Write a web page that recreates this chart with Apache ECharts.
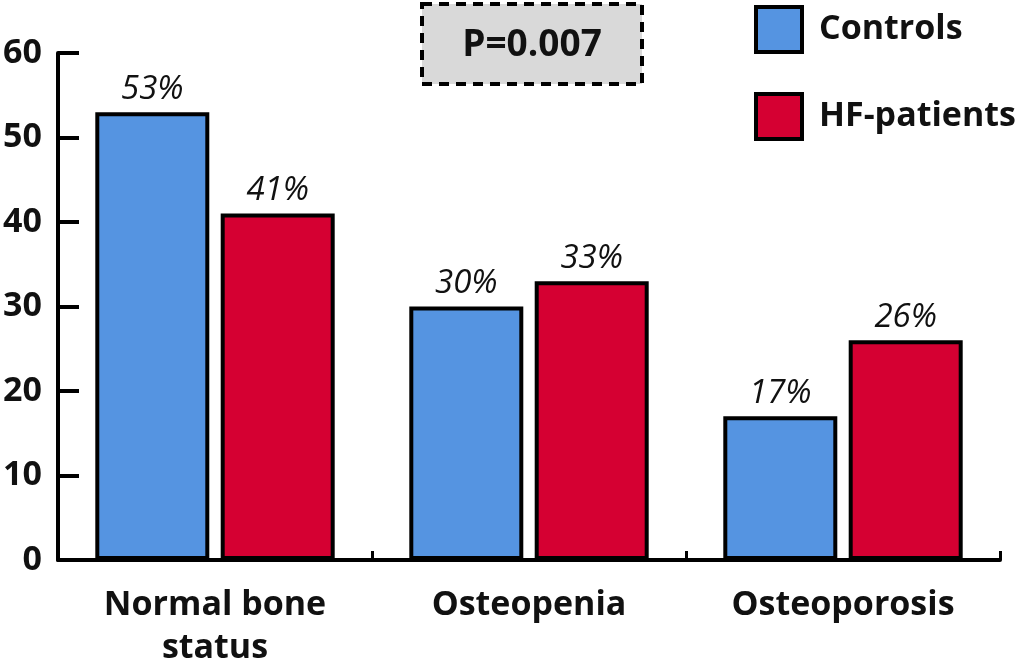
<!DOCTYPE html>
<html>
<head>
<meta charset="utf-8">
<script src="https://cdn.jsdelivr.net/npm/echarts@6/dist/echarts.min.js"></script>
<style>
  html, body { margin: 0; padding: 0; background: #fff; }
  #chart { width: 1021px; height: 664px; }
</style>
</head>
<body>
<div id="chart"></div>
<script>
// Bone status distribution (%) in controls vs. heart-failure patients
const categories = ['Normal bone\nstatus', 'Osteopenia', 'Osteoporosis'];
const controls = [53, 30, 17];
const hfPatients = [41, 33, 26];
const seriesNames = ['Controls', 'HF-patients'];
const yTicks = { min: 0, max: 60, interval: 10 };
const pValueText = 'P=0.007';

const FONT = "'Open Sans', 'DejaVu Sans', sans-serif";
const BLUE = '#5594e1';
const RED = '#d50032';

const chart = echarts.init(document.getElementById('chart'));

const valueLabel = {
  show: true,
  position: 'top',
  distance: 6,
  formatter: p => p.value + '%',
  fontFamily: FONT,
  fontStyle: 'italic',
  fontSize: 33,
  color: '#111'
};

chart.setOption({
  animation: false,
  backgroundColor: '#fff',
  grid: {
    left: 58, right: 21, top: 53, bottom: 104,
    containLabel: false,
    outerBoundsMode: 'none'
  },
  legend: {
    orient: 'vertical',
    left: 754,
    top: 5,
    padding: 0,
    itemWidth: 46,
    itemHeight: 45,
    itemGap: 38,
    icon: 'rect',
    itemStyle: { borderColor: '#000', borderWidth: 4 },
    textStyle: {
      fontFamily: FONT,
      fontWeight: 'bold',
      fontSize: 34,
      color: '#111',
      padding: [0, 0, 0, 12]
    },
    data: seriesNames
  },
  xAxis: {
    type: 'category',
    data: categories,
    boundaryGap: true,
    axisLine: { lineStyle: { color: '#000', width: 4 } },
    axisTick: { show: true, inside: true, length: 9, lineStyle: { color: '#000', width: 3 } },
    axisLabel: {
      fontFamily: FONT,
      fontWeight: 'bold',
      fontSize: 34,
      color: '#111',
      lineHeight: 43,
      margin: 24
    }
  },
  yAxis: {
    type: 'value',
    min: yTicks.min,
    max: yTicks.max,
    interval: yTicks.interval,
    splitLine: { show: false },
    axisLine: { show: true, lineStyle: { color: '#000', width: 4 } },
    axisTick: { show: true, inside: true, length: 21, lineStyle: { color: '#000', width: 4 } },
    axisLabel: {
      fontFamily: FONT,
      fontWeight: 'bold',
      fontSize: 34,
      color: '#111',
      margin: 16
    }
  },
  series: [
    {
      name: seriesNames[0],
      type: 'bar',
      data: controls,
      barWidth: 114,
      barGap: '10%',
      itemStyle: { color: BLUE, borderColor: '#000', borderWidth: 4 },
      label: valueLabel
    },
    {
      name: seriesNames[1],
      type: 'bar',
      data: hfPatients,
      barWidth: 114,
      barGap: '10%',
      itemStyle: { color: RED, borderColor: '#000', borderWidth: 4 },
      label: valueLabel
    }
  ],
  graphic: [
    {
      type: 'group',
      left: 420,
      top: 2,
      children: [
        {
          type: 'rect',
          shape: { x: 2, y: 2, width: 220, height: 80 },
          style: { fill: '#d9d9d9', stroke: '#000', lineWidth: 4, lineDash: [10, 7] }
        },
        {
          type: 'text',
          x: 112,
          y: 43,
          style: {
            text: pValueText,
            align: 'center',
            verticalAlign: 'middle',
            fontFamily: FONT,
            fontWeight: 'bold',
            fontSize: 37,
            fill: '#111'
          }
        }
      ]
    }
  ]
});
</script>
</body>
</html>
